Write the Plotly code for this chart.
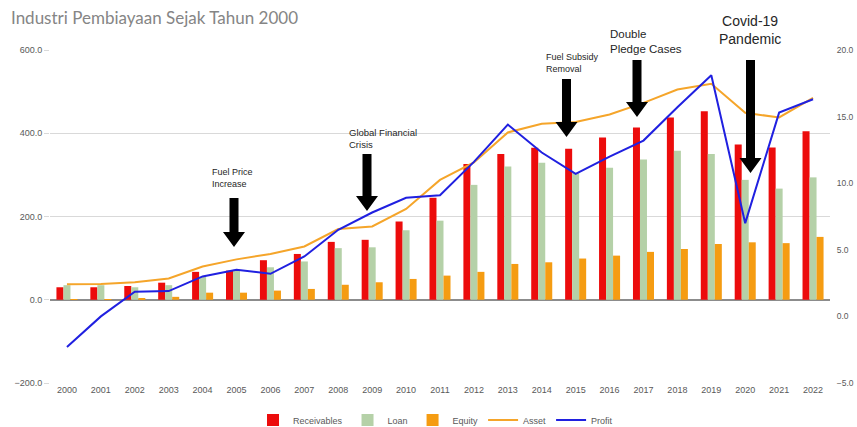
import plotly.graph_objects as go

years = [str(y) for y in range(2000, 2023)]
receivables = [30, 30, 33, 41, 67, 70, 95, 110, 139, 144, 188, 245, 326, 350, 365, 363, 390, 414, 438, 453, 373, 366, 405]
loan = [35, 35, 30, 35, 55, 72, 78, 92, 124, 126, 167, 190, 276, 320, 329, 305, 317, 337, 358, 350, 288, 267, 294]
equity = [1, 1, 4, 7, 17, 17, 22, 26, 36, 42, 50, 58, 67, 86, 90, 99, 106, 115, 122, 134, 138, 136, 151]
asset = [37, 38, 42, 51, 80, 97, 110, 128, 170, 176, 218, 288, 330, 402, 423, 427, 445, 473, 505, 519, 449, 438, 485]
profit = [-2.3, 0.0, 1.85, 1.9, 3.0, 3.5, 3.2, 4.5, 6.5, 7.8, 8.9, 9.1, 11.6, 14.4, 12.3, 10.7, 12.0, 13.2, 15.7, 18.1, 7.0, 15.3, 16.3]

W, H = 857, 427
L, R, T, B = 50, 27, 50, 44
PW, PH = W - L - R, H - T - B

def fx(px):
    return (px - L) / PW

def fy(py):
    return (H - B - py) / PH

tick_font = dict(family="Liberation Sans, Arial, sans-serif", size=9, color="#595959")

fig = go.Figure()
fig.add_trace(go.Bar(x=years, y=receivables, name="Receivables", marker=dict(color="#ec0c0c", line=dict(width=0))))
fig.add_trace(go.Bar(x=years, y=loan, name="Loan", marker=dict(color="#b5d1a8", line=dict(width=0))))
fig.add_trace(go.Bar(x=years, y=equity, name="Equity", marker=dict(color="#f59c12", line=dict(width=0))))
fig.add_trace(go.Scatter(x=years, y=asset, name="Asset", mode="lines", line=dict(color="#f5a52a", width=2)))
fig.add_trace(go.Scatter(x=years, y=profit, name="Profit", mode="lines", line=dict(color="#2020e0", width=2), yaxis="y2"))

# block arrows (annotation decorations)
arrows = [  # center x px, top px, tip px
    (234, 198, 247),
    (367, 154, 211),
    (566.5, 79, 137),
    (637, 60, 117),
    (750.5, 60, 173),
]
shapes = []
for cx, top, tip in arrows:
    sw, hw, hh = 9, 22, 15
    pts = [(cx - sw / 2, top), (cx + sw / 2, top), (cx + sw / 2, tip - hh), (cx + hw / 2, tip - hh),
           (cx, tip), (cx - hw / 2, tip - hh), (cx - sw / 2, tip - hh)]
    path = "M" + " L".join(f"{fx(a):.5f},{fy(b):.5f}" for a, b in pts) + " Z"
    shapes.append(dict(type="path", path=path, xref="paper", yref="paper", fillcolor="black",
                       line=dict(width=0), layer="above"))

notes = [
    ("Fuel Price<br>Increase", 210, 178, 9, "left"),
    ("Global Financial<br>Crisis", 347, 138, 9.5, "left"),
    ("Fuel Subsidy<br>Removal", 544, 63, 9, "left"),
    ("Double<br>Pledge Cases", 608, 41, 11.5, "left"),
    ("Covid-19<br>Pandemic", 750, 30, 14, "center"),
]
annotations = []
for txt, px, py, fs, al in notes:
    annotations.append(dict(text=txt, x=fx(px), y=fy(py), xref="paper", yref="paper",
                            xanchor=al, yanchor="middle", align=al, showarrow=False,
                            font=dict(family="Liberation Sans, Arial, sans-serif", size=fs, color="#262626")))

fig.update_layout(
    width=W, height=H,
    margin=dict(l=L, r=R, t=T, b=B, autoexpand=False),
    paper_bgcolor="white", plot_bgcolor="white",
    barmode="group", bargap=0.38, bargroupgap=0.0,
    title=dict(text="Industri Pembiayaan Sejak Tahun 2000", x=11 / W, y=1 - 18 / H,
               xref="container", yref="container", xanchor="left", yanchor="middle",
               font=dict(family="Lato, Open Sans, sans-serif", size=17, color="#858585")),
    xaxis=dict(type="category", showgrid=False, ticks="", tickfont=tick_font, showline=False,
               range=[-0.5, 22.5]),
    yaxis=dict(range=[-200, 600], dtick=200, tickformat=".1f", showgrid=True, gridcolor="#d9d9d9",
               gridwidth=1, zeroline=True, zerolinecolor="#8c8c8c", zerolinewidth=1.5,
               ticks="outside", ticklen=5, tickcolor="#d9d9d9", tickfont=tick_font, showline=False),
    yaxis2=dict(range=[-5, 20], dtick=5, tickformat=".1f", overlaying="y", side="right",
                showgrid=False, zeroline=False,
                tickfont=dict(family="Liberation Sans, Arial, sans-serif", size=8.5, color="#595959"),
                ticks="outside", ticklen=4, tickcolor="rgba(0,0,0,0)", showline=False),
    legend=dict(orientation="h", x=fx(435.5), y=fy(420), xanchor="center", yanchor="middle",
                font=dict(family="Liberation Sans, Arial, sans-serif", size=9, color="#595959"),
                itemwidth=30, tracegroupgap=0),
    shapes=shapes,
    annotations=annotations,
    showlegend=True,
)

fig.write_html("out.html")
